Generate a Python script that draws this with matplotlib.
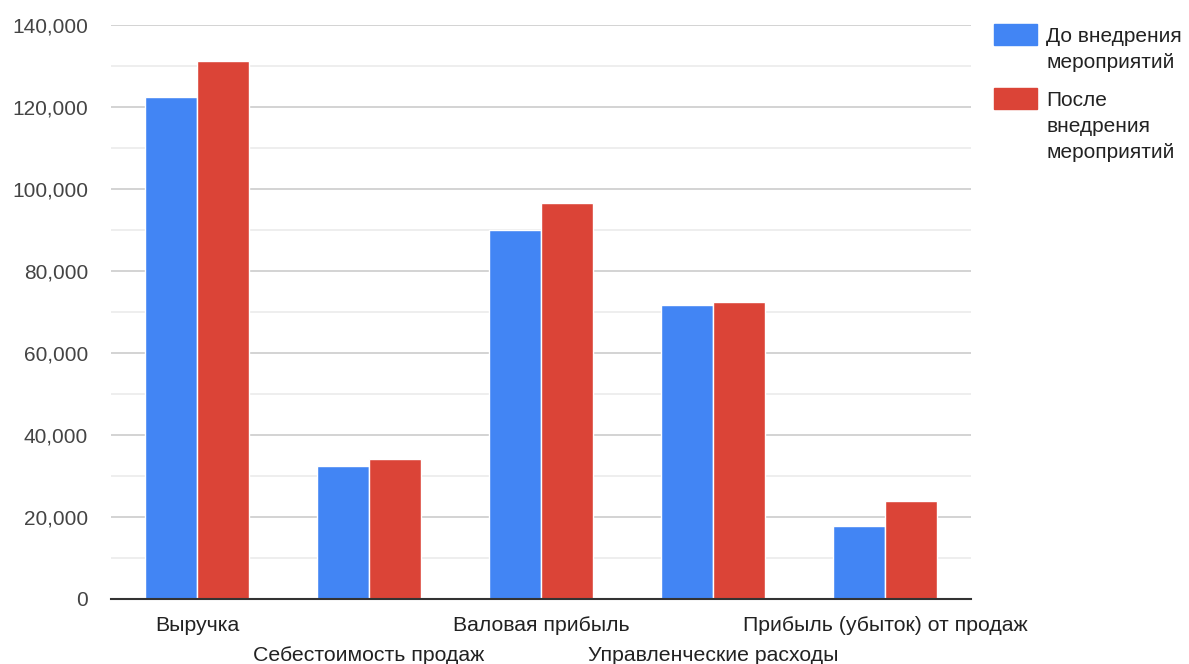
import numpy as np
import matplotlib.pyplot as plt
from matplotlib.patches import Rectangle
from matplotlib.ticker import FuncFormatter, MultipleLocator

# Financial indicators before / after the measures
categories = [
    "Выручка",
    "Себестоимость продаж",
    "Валовая прибыль",
    "Управленческие расходы",
    "Прибыль (убыток) от продаж",
]
before = [122400, 32400, 89900, 71600, 17900]
after = [131100, 34200, 96600, 72400, 24000]
series_labels = ["До внедрения\nмероприятий", "После\nвнедрения\nмероприятий"]

blue = "#4285f4"
red = "#db4437"

plt.rcParams["font.family"] = ["Liberation Sans", "DejaVu Sans"]

fig = plt.figure(figsize=(11.89, 6.64), dpi=100)
ax = fig.add_axes([111 / 1189, 1 - 599 / 664, 860 / 1189, (599 - 24.7) / 664])

x = np.arange(len(categories))
w = 0.305
ax.bar(x - w / 2, before, width=w, color=blue, edgecolor="white", linewidth=1, zorder=3)
ax.bar(x + w / 2, after, width=w, color=red, edgecolor="white", linewidth=1, zorder=3)

ax.set_xlim(-0.5, len(categories) - 0.5)
ax.set_ylim(0, 140000)

# gridlines: major every 20k, lighter minor every 10k
ax.yaxis.set_major_locator(MultipleLocator(20000))
ax.yaxis.set_minor_locator(MultipleLocator(10000))
ax.grid(axis="y", which="major", color="#cccccc", linewidth=1.2, zorder=0)
ax.grid(axis="y", which="minor", color="#ebebeb", linewidth=1.2, zorder=0)
ax.yaxis.set_major_formatter(FuncFormatter(lambda v, p: f"{int(v):,}"))

for s in ["top", "right", "left"]:
    ax.spines[s].set_visible(False)
ax.spines["bottom"].set_color("#333333")
ax.spines["bottom"].set_linewidth(1.5)
ax.spines["bottom"].set_zorder(4)

ax.tick_params(axis="y", which="both", length=0, labelsize=15, labelcolor="#444444", pad=16.5)
ax.tick_params(axis="x", length=0, labelsize=15, labelcolor="#222222")

# alternate category labels between two rows
ax.set_xticks(x)
ax.set_xticklabels([])
for i, name in enumerate(categories):
    dy = -12 if i % 2 == 0 else -33.5
    ax.annotate(name, xy=(i, 0), xycoords="data", xytext=(0, dy),
                textcoords="offset points", ha="center", va="top",
                fontsize=15.3, color="#222222", annotation_clip=False)

# legend on the right
for color, label, top in [(blue, series_labels[0], 24), (red, series_labels[1], 88)]:
    fig.add_artist(Rectangle((994 / 1189, 1 - (top + 21) / 664), 43 / 1189, 21 / 664,
                             transform=fig.transFigure, color=color))
    fig.text(1046 / 1189, 1 - (top + 3) / 664, label, ha="left", va="top",
             fontsize=15, color="#222222", linespacing=1.45)

plt.savefig("out.png", dpi=100)
